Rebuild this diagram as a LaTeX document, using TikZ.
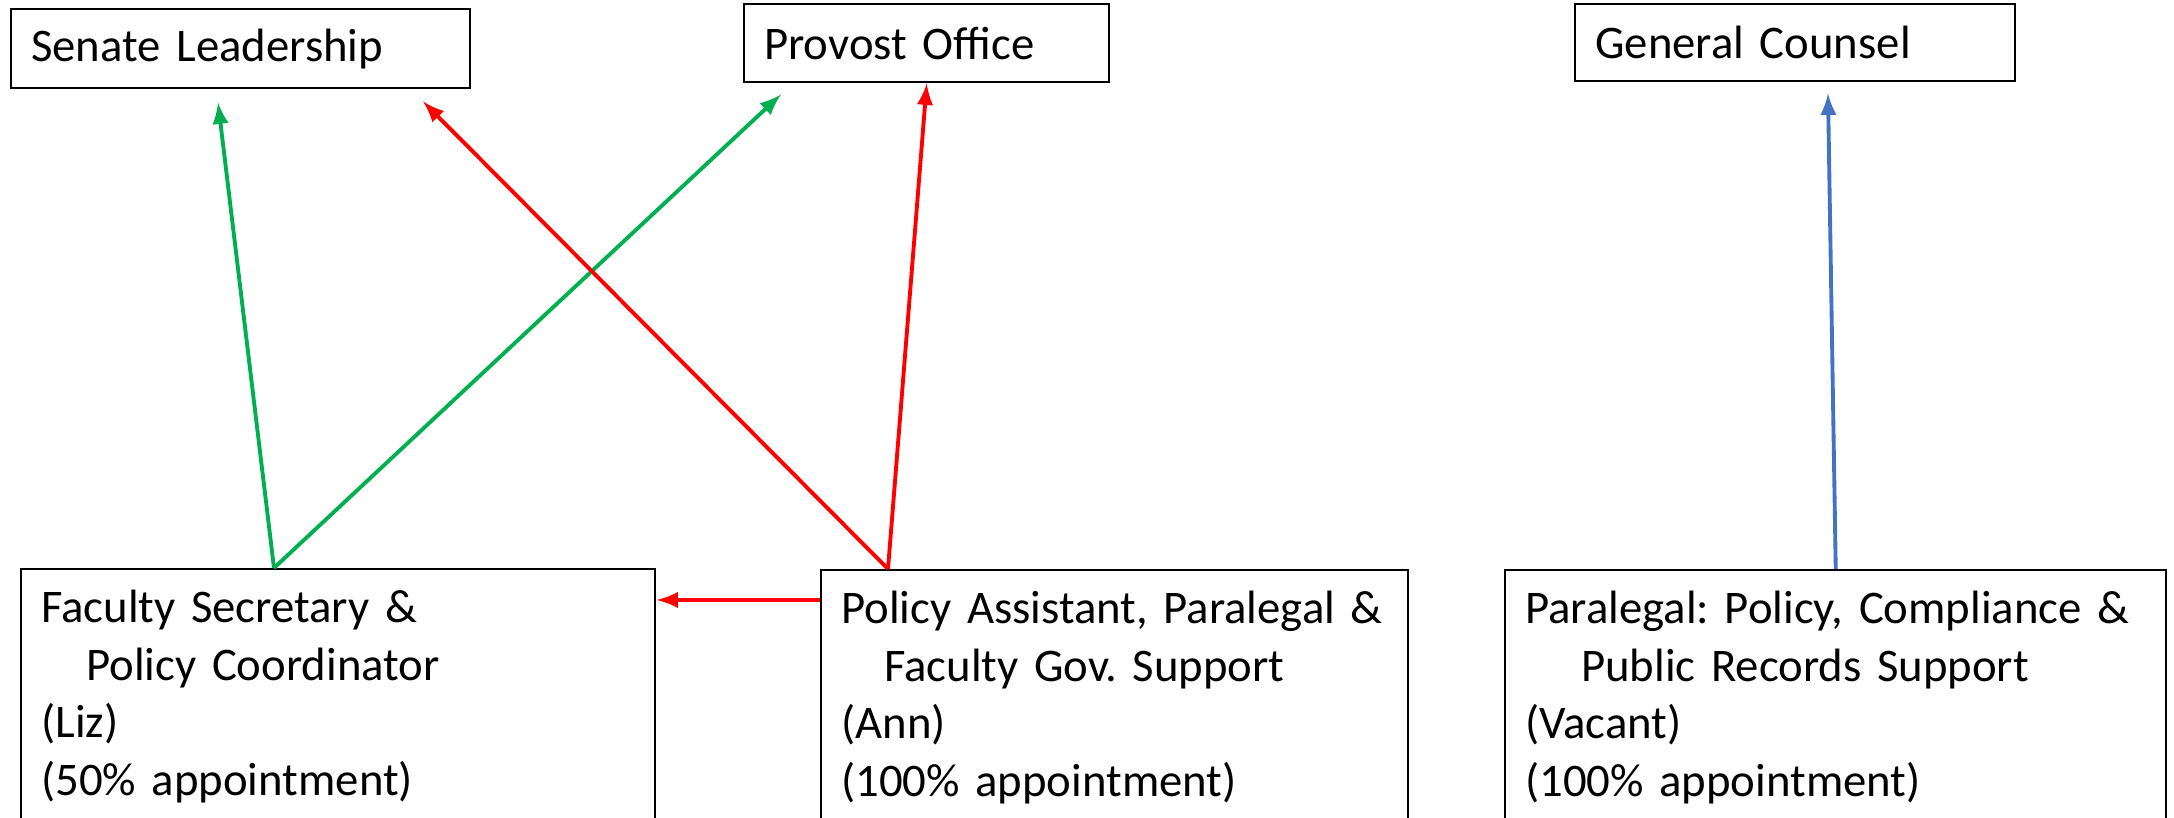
\documentclass[tikz,border=0pt]{standalone}
\usepackage{fontspec}
\setmainfont{Carlito}
\definecolor{linegreen}{HTML}{00B050}
\definecolor{linered}{HTML}{FF0000}
\definecolor{lineblue}{HTML}{4472C4}

\begin{document}
\begin{tikzpicture}[
    office/.style={draw, line width=0.7pt, anchor=north west, inner xsep=0.2cm,
      align=left, font=\fontsize{13.3}{16.4}\selectfont\frenchspacing},
    post/.style={office, inner ysep=0.21cm},
    greenline/.style={-latex, draw=linegreen, line width=1.1pt},
    redline/.style={-latex, draw=linered, line width=1.1pt},
    blueline/.style={-latex, draw=lineblue, line width=1.1pt}
  ]

    \useasboundingbox (0,0) rectangle (21.74,8.18);
    \clip (0,0) rectangle (21.74,8.18);

    % offices on top
    \node[office, text width=4.19cm, minimum height=0.79cm] (senate) at (0.10,8.10) {Senate Leadership};
    \node[office, text width=3.25cm, minimum height=0.78cm] (provost) at (7.43,8.15) {Provost Office};
    \node[office, text width=4.00cm, minimum height=0.77cm] (counsel) at (15.74,8.15) {General Counsel};

    % staff positions
    \node[post, text width=5.94cm] (secretary) at (0.20,2.50)
      {\mbox{Faculty Secretary \&}\\\hspace*{0.45cm}\mbox{Policy Coordinator}\\(Liz)\\\mbox{(50\% appointment)}};
    \node[post, text width=5.47cm] (assistant) at (8.20,2.49)
      {\mbox{Policy Assistant, Paralegal \&}\\\hspace*{0.43cm}\mbox{Faculty Gov. Support}\\(Ann)\\\mbox{(100\% appointment)}};
    \node[post, text width=6.21cm] (paralegal) at (15.04,2.49)
      {\mbox{Paralegal: Policy, Compliance \&}\\\hspace*{0.56cm}\mbox{Public Records Support}\\(Vacant)\\\mbox{(100\% appointment)}};

    % free arrow ends below the top boxes
    \coordinate (senateG) at ([xshift=2.08cm,yshift=-0.13cm]senate.south west);
    \coordinate (senateR) at ([xshift=4.13cm,yshift=-0.12cm]senate.south west);
    \coordinate (provostG) at ([xshift=0.38cm,yshift=-0.11cm]provost.south west);
    \coordinate (counselB) at ([xshift=2.54cm,yshift=-0.11cm]counsel.south west);
    \coordinate (handoff) at (0,2.18);

    \draw[greenline] ([xshift=2.54cm]secretary.north west) -- (senateG);
    \draw[greenline] ([xshift=2.54cm]secretary.north west) -- (provostG);
    \draw[redline] ([xshift=0.68cm]assistant.north west) -- (senateR);
    \draw[redline] ([xshift=0.68cm]assistant.north west) -- (provost.south);
    \draw[redline] (assistant.west |- handoff) -- (secretary.east |- handoff);
    \draw[blueline] (paralegal.north) -- (counselB);

\end{tikzpicture}
\end{document}
